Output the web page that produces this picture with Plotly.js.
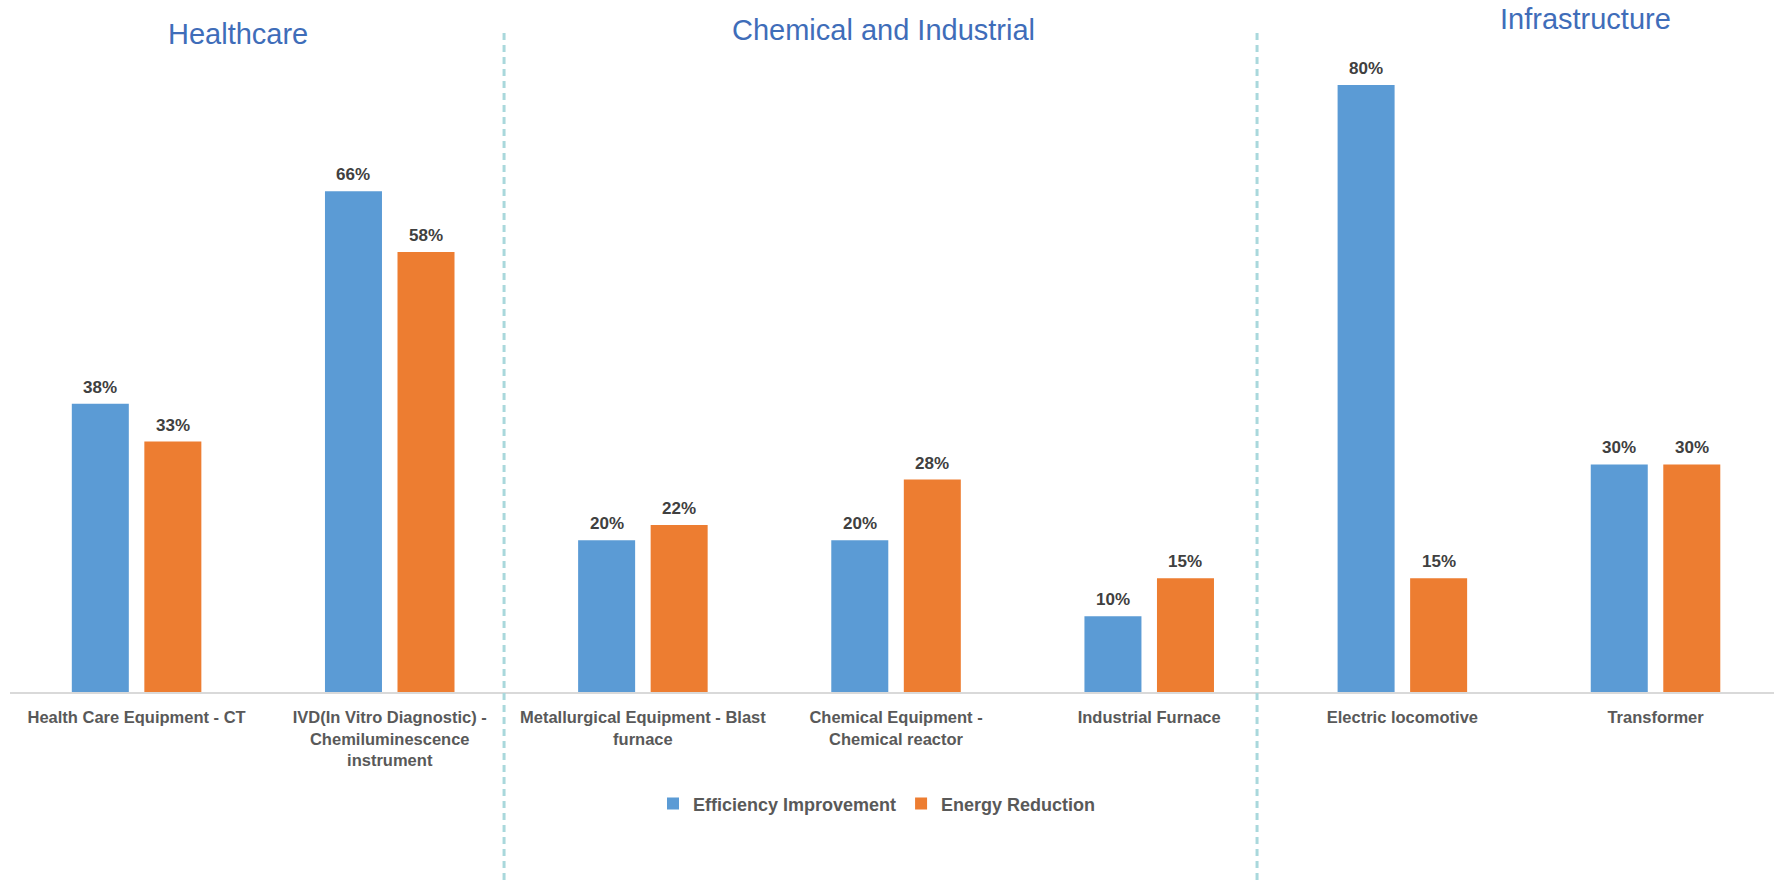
<!DOCTYPE html>
<html>
<head>
<meta charset="utf-8">
<script src="https://cdn.plot.ly/plotly-3.0.1.min.js"></script>
<style>
  html, body { margin: 0; padding: 0; background: #ffffff; }
  #chart { width: 1774px; height: 885px; }
</style>
</head>
<body>
<div id="chart"></div>
<script>
// Equipment categories (tick labels, wrapped as shown under the axis)
const categories = [
  "Health Care Equipment - CT",
  "IVD(In Vitro Diagnostic) -<br>Chemiluminescence<br>instrument",
  "Metallurgical Equipment - Blast<br>furnace",
  "Chemical Equipment -<br>Chemical reactor",
  "Industrial Furnace",
  "Electric locomotive",
  "Transformer"
];

// Percent values per series
const efficiencyImprovement = [38, 66, 20, 20, 10, 80, 30];
const energyReduction = [33, 58, 22, 28, 15, 15, 30];

// Sector headings
const sectorNames = ["Healthcare", "Chemical and Industrial", "Infrastructure"];

const FONT = "Liberation Sans, Arial, sans-serif";
const BARGAP = 0.427;
const BARGROUPGAP = 0.214;

const idx = categories.map((_, i) => i);

const series = [
  { name: "Efficiency Improvement", values: efficiencyImprovement, color: "#5B9BD5" },
  { name: "Energy Reduction", values: energyReduction, color: "#ED7D31" }
];

const traces = series.map(s => ({
  type: "bar",
  name: s.name,
  x: idx,
  y: s.values,
  marker: { color: s.color },
  hoverinfo: "skip"
}));

// Value labels sit above each bar; the horizontal offset is half a group slot
const slot = (1 - BARGAP) / series.length;
const valueLabels = [];
series.forEach((s, k) => {
  const offset = (k - (series.length - 1) / 2) * slot;
  s.values.forEach((v, i) => {
    valueLabels.push({
      x: i + offset,
      y: v,
      xref: "x",
      yref: "y",
      text: v + "%",
      showarrow: false,
      xanchor: "center",
      yanchor: "bottom",
      yshift: 5,
      font: { family: FONT, size: 17, color: "#404040", weight: "bold" }
    });
  });
});

const headingFont = { family: FONT, size: 29, color: "#3F6DB9" };

const headings = [
  { text: sectorNames[0], x: 0.1293, y: 0.994 },
  { text: sectorNames[1], x: 0.4949, y: 1.0 },
  { text: sectorNames[2], x: 0.8929, y: 1.0166 }
].map(a => Object.assign({
  xref: "paper",
  yref: "paper",
  xanchor: "center",
  yanchor: "middle",
  showarrow: false,
  font: headingFont
}, a));

const layout = {
  width: 1774,
  height: 885,
  margin: { l: 10, r: 0, t: 30, b: 193, pad: 0 },
  paper_bgcolor: "#ffffff",
  plot_bgcolor: "#ffffff",
  barmode: "group",
  bargap: BARGAP,
  bargroupgap: BARGROUPGAP,
  showlegend: true,
  legend: {
    orientation: "h",
    x: 0.4915,
    xanchor: "center",
    y: -0.169,
    yanchor: "middle",
    font: { family: FONT, size: 18, color: "#595959", weight: "bold" },
    itemwidth: 30,
    tracegroupgap: 0
  },
  xaxis: {
    range: [-0.5, 6.468],
    tickmode: "array",
    tickvals: idx,
    ticktext: categories,
    ticks: "",
    ticklabelstandoff: 10,
    tickfont: { family: FONT, size: 16.5, color: "#595959", weight: "bold" },
    showgrid: false,
    zeroline: false,
    showline: true,
    linecolor: "#D9D9D9",
    linewidth: 1.5,
    fixedrange: true
  },
  yaxis: {
    range: [0, 87.25],
    visible: false,
    showgrid: false,
    zeroline: false,
    fixedrange: true
  },
  // Dashed separators between the sectors
  shapes: [1.4516, 4.426].map(xv => ({
    type: "line",
    xref: "x",
    yref: "paper",
    x0: xv, x1: xv,
    y0: 0.9955, y1: -0.2915,
    line: { color: "#A9D8DC", width: 3, dash: "7px,5px" }
  })),
  annotations: headings.concat(valueLabels)
};

Plotly.newPlot("chart", traces, layout, { displayModeBar: false, staticPlot: true });
</script>
</body>
</html>
